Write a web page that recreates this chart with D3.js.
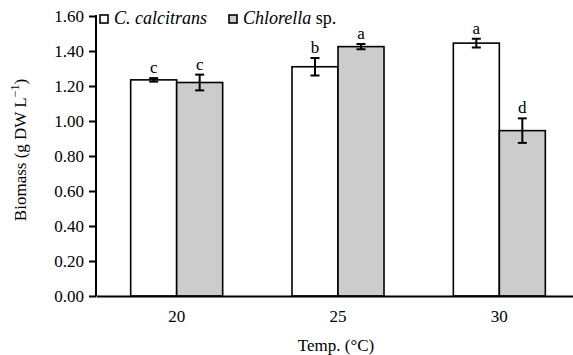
<!DOCTYPE html>
<html>
<head>
<meta charset="utf-8">
<script src="https://cdn.jsdelivr.net/npm/d3@7"></script>
<style>
  body { margin: 0; background: #fff; }
</style>
</head>
<body>
<div id="chart"></div>
<script>
const temps = ["20", "25", "30"];
const seriesNames = ["C. calcitrans", "Chlorella sp."];
const calcitrans = [1.235, 1.31, 1.445];
const calcitransErr = [0.01, 0.05, 0.025];
const chlorella = [1.22, 1.425, 0.945];
const chlorellaErr = [0.045, 0.015, 0.07];
const calcitransLetters = ["c", "b", "a"];
const chlorellaLetters = ["c", "a", "d"];
const yTicks = [0, 0.2, 0.4, 0.6, 0.8, 1.0, 1.2, 1.4, 1.6];

const serif = "'Liberation Serif', 'Times New Roman', serif";
const width = 573, height = 355;
const margin = { top: 16, right: -7, bottom: 59, left: 96 };
const innerW = width - margin.left - margin.right,
      innerH = height - margin.top - margin.bottom;

const svg = d3.select("#chart").append("svg")
    .attr("width", width)
    .attr("height", height)
    .style("font-family", serif);

const g = svg.append("g")
    .attr("transform", "translate(" + margin.left + "," + margin.top + ")");

const x = d3.scaleBand().domain(temps).range([0, innerW]);
const y = d3.scaleLinear().domain([0, 1.6]).range([innerH, 0]);
const barW = 46;

const rows = temps.map((t, i) => [
    { t: t, s: 0, v: calcitrans[i], e: calcitransErr[i], l: calcitransLetters[i] },
    { t: t, s: 1, v: chlorella[i], e: chlorellaErr[i], l: chlorellaLetters[i] }
]).flat();

const fills = ["#ffffff", "#cccccc"];
const bx = d => x(d.t) + x.bandwidth() / 2 - barW + d.s * barW;

// bars
g.selectAll(".bar")
    .data(rows)
    .enter().append("rect")
    .attr("x", bx)
    .attr("y", d => y(d.v))
    .attr("width", barW)
    .attr("height", d => y(0) - y(d.v))
    .attr("fill", d => fills[d.s])
    .attr("stroke", "#000")
    .attr("stroke-width", 1.6);

// error bars
const err = g.selectAll(".err").data(rows).enter().append("g")
    .attr("stroke", "#000").attr("stroke-width", 2);
err.append("line")
    .attr("x1", d => bx(d) + barW / 2).attr("x2", d => bx(d) + barW / 2)
    .attr("y1", d => y(d.v + d.e)).attr("y2", d => y(d.v - d.e));
err.append("line")
    .attr("x1", d => bx(d) + barW / 2 - 4.5).attr("x2", d => bx(d) + barW / 2 + 4.5)
    .attr("y1", d => y(d.v + d.e)).attr("y2", d => y(d.v + d.e));
err.append("line")
    .attr("x1", d => bx(d) + barW / 2 - 4.5).attr("x2", d => bx(d) + barW / 2 + 4.5)
    .attr("y1", d => y(d.v - d.e)).attr("y2", d => y(d.v - d.e));

// significance letters
g.selectAll(".letter")
    .data(rows)
    .enter().append("text")
    .attr("x", d => bx(d) + barW / 2)
    .attr("y", d => y(d.v + d.e) - 5)
    .attr("text-anchor", "middle")
    .style("font-family", serif)
    .style("font-size", "17px")
    .text(d => d.l);

// axes
const yAxis = g.append("g")
    .call(d3.axisLeft(y).tickValues(yTicks).tickFormat(d3.format(".2f")).tickSize(7).tickPadding(5));
yAxis.attr("font-family", null);
yAxis.selectAll("text").style("font-family", serif).style("font-size", "17px").attr("fill", "#000");
yAxis.selectAll("line").attr("stroke-width", 2);
yAxis.select(".domain").attr("stroke-width", 2).attr("d", "M0," + (y(1.6) - 1) + "V" + innerH);

const xAxis = g.append("g")
    .attr("transform", "translate(0," + innerH + ")")
    .call(d3.axisBottom(x).tickSize(0).tickPadding(14));
xAxis.attr("font-family", null);
xAxis.selectAll("text").style("font-family", serif).style("font-size", "17px").attr("fill", "#000");
xAxis.select(".domain").attr("stroke-width", 2);

// axis titles
svg.append("text")
    .attr("x", 336).attr("y", 351)
    .attr("text-anchor", "middle")
    .style("font-family", serif)
    .style("font-size", "17px")
    .text("Temp. (°C)");

const yt = svg.append("text")
    .attr("transform", "translate(26,150) rotate(-90)")
    .attr("text-anchor", "middle")
    .style("font-family", serif)
    .style("font-size", "17px");
yt.append("tspan").text("Biomass (g DW L");
yt.append("tspan").attr("dy", -7).style("font-size", "12px").text("−1");
yt.append("tspan").attr("dy", 7).text(")");

// legend
const leg = svg.append("g").attr("transform", "translate(100,15)");
leg.append("rect").attr("x", 0).attr("y", 0).attr("width", 8).attr("height", 8)
    .attr("fill", fills[0]).attr("stroke", "#000").attr("stroke-width", 1.6);
leg.append("text").attr("x", 14).attr("y", 9).style("font-size", "18px")
    .style("font-family", serif)
    .style("font-style", "italic").text(seriesNames[0]);
leg.append("rect").attr("x", 129).attr("y", 0).attr("width", 8).attr("height", 8)
    .attr("fill", fills[1]).attr("stroke", "#000").attr("stroke-width", 1.6);
const l2 = leg.append("text").attr("x", 143).attr("y", 9).style("font-size", "18px")
    .style("font-family", serif);
l2.append("tspan").style("font-style", "italic").text(seriesNames[1].split(" ")[0]);
l2.append("tspan").text(" " + seriesNames[1].split(" ")[1]);
</script>
</body>
</html>
